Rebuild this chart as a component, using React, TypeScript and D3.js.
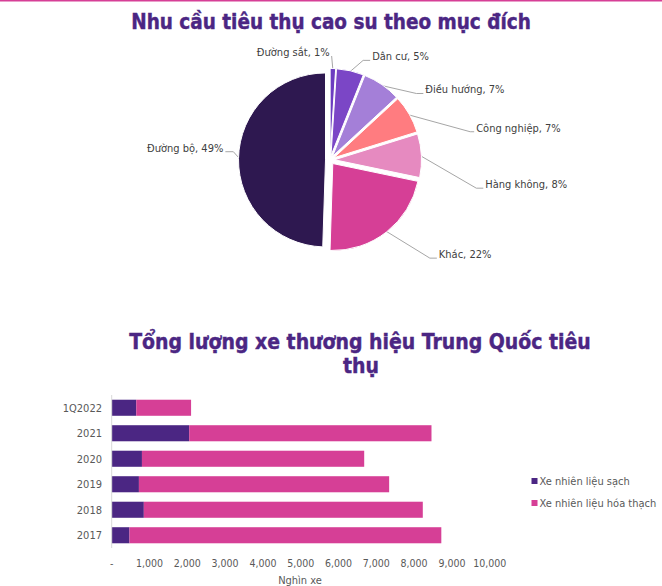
import { useEffect, useRef } from "react";
import * as d3 from "d3";

// --- pie data (clockwise from 12 o'clock)
const PIE_LABELS = ["Đường sắt", "Dân cư", "Điều hướng", "Công nghiệp", "Hàng không", "Khác", "Đường bộ"];
const PIE_VALUES = [1, 5, 7, 7, 8, 22, 49];
const PIE_COLORS = ["#6c3cc0", "#7b46c6", "#a47fd8", "#ff7c80", "#e68ac0", "#d63f96", "#2e1850"];

// --- bar data (top to bottom)
const BAR_CATS = ["1Q2022", "2021", "2020", "2019", "2018", "2017"];
const CLEAN = [650, 2050, 800, 720, 850, 470];
const FOSSIL = [1450, 6410, 5880, 6620, 7380, 8250];
const SERIES_NAMES = ["Xe nhiên liệu sạch", "Xe nhiên liệu hóa thạch"];
const SERIES_COLORS = ["#4b2683", "#d63f96"];
const X_TICKS = [0, 1000, 2000, 3000, 4000, 5000, 6000, 7000, 8000, 9000, 10000];

// label leader elbows: [angle deg clockwise from top, radius, horizontal run]
const LABEL_LAYOUT: [number, number, number][] = [
  [0.9, 104, 0], [18.4, 105, 7], [52.4, 109, 7], [78.6, 143, 4], [100.9, 149, 7], [134.5, 140, 7], [274.9, 97, 8],
];

const FONT = '"DejaVu Sans Condensed", "DejaVu Sans", sans-serif';
const TITLE_COLOR = "#4b2683";
const TEXT = "#404040";
const AXIS_TEXT = "#595959";

export default function App() {
  const svgRef = useRef<SVGSVGElement>(null);

  useEffect(() => {
    if (!svgRef.current) return;
    const W = 662, H = 586;
    const svg = d3.select(svgRef.current);
    svg.selectAll("*").remove();
    svg.attr("width", W).attr("height", H).style("font-family", FONT);

    svg.append("rect").attr("width", W).attr("height", H).attr("fill", "#fff");
    svg.append("line").attr("x1", 0).attr("x2", W).attr("y1", 0.75).attr("y2", 0.75)
      .attr("stroke", "#d63f96").attr("stroke-width", 1.5);

    // ---------- pie ----------
    svg.append("text").attr("x", 331).attr("y", 29)
      .attr("text-anchor", "middle").attr("font-weight", "bold").attr("font-size", 20.5)
      .attr("fill", TITLE_COLOR).attr("stroke", TITLE_COLOR).attr("stroke-width", 0.4)
      .text("Nhu cầu tiêu thụ cao su theo mục đích");

    const cx = 330, cy = 160, r = 87, explode = 4.5;
    const pie = d3.pie<number>().sort(null).value(d => d);
    const arcs = pie(PIE_VALUES);
    const arc = d3.arc<d3.PieArcDatum<number>>().innerRadius(0).outerRadius(r);
    const g = svg.append("g").attr("transform", `translate(${cx},${cy})`);
    const dir = (a: number) => [Math.sin(a), -Math.cos(a)];

    // leader lines + labels
    arcs.forEach((a, i) => {
      const mid = (a.startAngle + a.endAngle) / 2;
      const [dx, dy] = dir(mid);
      const [angDeg, R, run] = LABEL_LAYOUT[i];
      const [ex, ey] = dir((angDeg * Math.PI) / 180);
      const p0 = [dx * (r + explode - 1), dy * (r + explode - 1)];
      const p1 = [ex * R, ey * R];
      const right = i < 6;
      const p2 = [p1[0] + (right ? run : -run), p1[1]];
      g.append("polyline")
        .attr("points", [p0, p1, p2].map(p => p.join(",")).join(" "))
        .attr("fill", "none").attr("stroke", "#a6a6a6").attr("stroke-width", 1);
      const leftOfLine = i === 0 || !right;
      g.append("text")
        .attr("x", leftOfLine ? p2[0] - 2 : p2[0] + 2)
        .attr("y", p1[1] - 4 + 3.9)
        .attr("text-anchor", leftOfLine ? "end" : "start")
        .attr("font-size", 11).attr("fill", TEXT)
        .text(`${PIE_LABELS[i]}, ${PIE_VALUES[i]}%`);
    });

    g.selectAll("path.slice").data(arcs).join("path")
      .attr("class", "slice")
      .attr("d", arc)
      .attr("transform", d => {
        const [dx, dy] = dir((d.startAngle + d.endAngle) / 2);
        return `translate(${dx * explode},${dy * explode})`;
      })
      .attr("fill", (_, i) => PIE_COLORS[i])
      .attr("stroke", "#fff").attr("stroke-width", 1);

    // ---------- stacked bars ----------
    const t2 = svg.append("text").attr("text-anchor", "middle").attr("font-weight", "bold")
      .attr("font-size", 21).attr("fill", TITLE_COLOR)
      .attr("stroke", TITLE_COLOR).attr("stroke-width", 0.4);
    t2.append("tspan").attr("x", 360).attr("y", 349).text("Tổng lượng xe thương hiệu Trung Quốc tiêu");
    t2.append("tspan").attr("x", 361).attr("y", 373).text("thụ");

    const x = d3.scaleLinear().domain([0, 10000]).range([111.7, 489.7]);
    const y = d3.scaleBand().domain(BAR_CATS).range([395, 548]).paddingInner(0.37).paddingOuter(0.185);

    const rows = BAR_CATS.map((c, i) => ({ cat: c, clean: CLEAN[i], fossil: FOSSIL[i] }));
    const stack = d3.stack<typeof rows[0]>().keys(["clean", "fossil"]);
    const layers = stack(rows);

    layers.forEach((layer, li) => {
      svg.append("g").selectAll("rect").data(layer).join("rect")
        .attr("x", d => x(d[0]))
        .attr("width", d => x(d[1]) - x(d[0]))
        .attr("y", d => y(d.data.cat)!)
        .attr("height", y.bandwidth())
        .attr("fill", SERIES_COLORS[li]);
    });

    // y axis
    svg.append("line").attr("x1", x(0)).attr("x2", x(0)).attr("y1", 395).attr("y2", 548)
      .attr("stroke", "#d9d9d9").attr("stroke-width", 1);
    svg.append("g").selectAll("text").data(BAR_CATS).join("text")
      .attr("x", 102).attr("y", d => y(d)! + y.bandwidth() / 2 + 3.9)
      .attr("text-anchor", "end").attr("font-size", 11).attr("fill", AXIS_TEXT)
      .text(d => d);

    // x tick labels
    const fmt = d3.format(",");
    svg.append("g").selectAll("text").data(X_TICKS).join("text")
      .attr("x", d => x(d)).attr("y", 566.5)
      .attr("text-anchor", "middle").attr("font-size", 10.5).attr("fill", AXIS_TEXT)
      .text(d => (d === 0 ? "-" : fmt(d)));
    svg.append("text").attr("x", 300).attr("y", 584).attr("text-anchor", "middle")
      .attr("font-size", 11).attr("fill", AXIS_TEXT).text("Nghìn xe");

    // legend
    SERIES_NAMES.forEach((name, i) => {
      const ly = 481 + i * 22;
      svg.append("rect").attr("x", 531.5).attr("y", ly - 3).attr("width", 6).attr("height", 6)
        .attr("fill", SERIES_COLORS[i]);
      svg.append("text").attr("x", 539.5).attr("y", ly + 3.9).attr("font-size", 11)
        .attr("fill", AXIS_TEXT).text(name);
    });
  }, []);

  return <svg ref={svgRef} style={{ position: "absolute", left: 0, top: 0, display: "block" }} />;
}
